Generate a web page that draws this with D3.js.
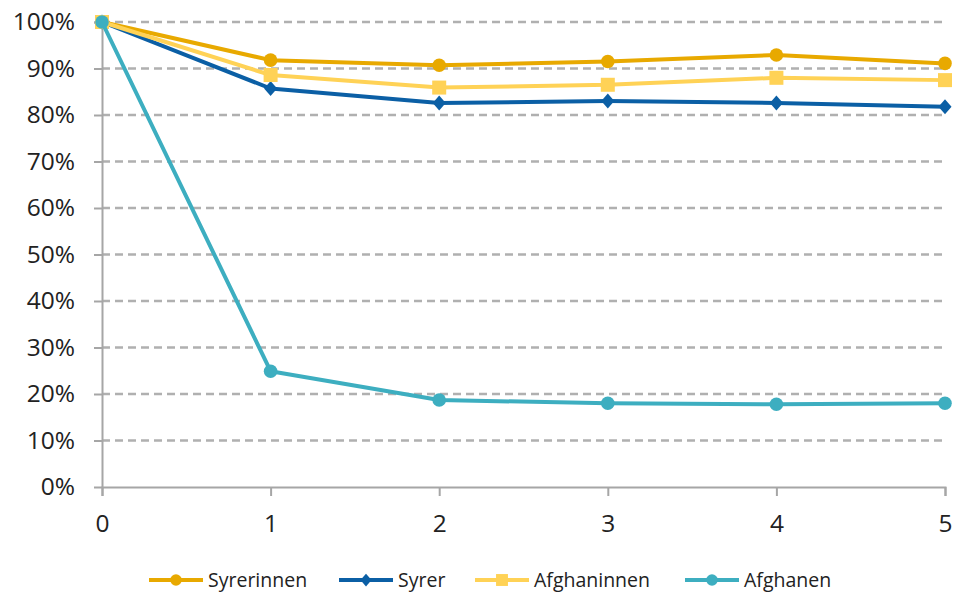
<!DOCTYPE html>
<html><head><meta charset="utf-8">
<script src="https://cdn.jsdelivr.net/npm/d3@7"></script>
<style>body{margin:0;background:#fff}svg{display:block}text{font-family:"Open Sans","Noto Sans",sans-serif;fill:#222}</style>
</head><body><svg id="c" width="960" height="594"></svg>
<script>
const years = [0,1,2,3,4,5];
const yTicks = [0,0.1,0.2,0.3,0.4,0.5,0.6,0.7,0.8,0.9,1.0];
const syrerinnen = [1.00,0.918,0.907,0.915,0.929,0.911];
const syrer = [1.00,0.857,0.826,0.830,0.826,0.818];
const afghaninnen = [1.00,0.886,0.859,0.865,0.880,0.875];
const afghanen = [1.00,0.249,0.187,0.180,0.178,0.180];
const seriesNames = ["Syrerinnen","Syrer","Afghaninnen","Afghanen"];
const seriesValues = [syrerinnen,syrer,afghaninnen,afghanen];
const colors = ["#E8A900","#0B5FA5","#FFD256","#3DAEC0"];
const shapes = ["circle","diamond","square","circle"];

const svg = d3.select("#c");
const x = d3.scaleLinear().domain([0,5]).range([102,945]);
const y = d3.scaleLinear().domain([0,1]).range([487,22]);

// gridlines
svg.append("g").selectAll("line").data(yTicks.filter(d=>d>0)).join("line")
  .attr("x1",x(0)).attr("x2",x(5)).attr("y1",d=>y(d)).attr("y2",d=>y(d))
  .attr("stroke","#B0B0B0").attr("stroke-width",2.6).attr("stroke-dasharray","8,5");

// axes
const yAxis = d3.axisLeft(y).tickValues(yTicks).tickFormat(d=>Math.round(d*100)+"%").tickSize(8).tickPadding(19);
const gy = svg.append("g").attr("transform",`translate(${x(0)},0)`).call(yAxis);
const xAxis = d3.axisBottom(x).tickValues(years).tickFormat(d3.format("d")).tickSize(9).tickPadding(19);
const gx = svg.append("g").attr("transform",`translate(0,${y(0)})`).call(xAxis);
[gy,gx].forEach(g=>{
  g.select(".domain").attr("stroke","#A6A6A6").attr("stroke-width",2);
  g.selectAll(".tick line").attr("stroke","#A6A6A6").attr("stroke-width",2);
  g.selectAll("text").style("font-size","24.5px").attr("fill","#222");
});
gy.selectAll(".tick").filter(d=>d===0).select("line").remove();

function marker(g, shape, color, cx, cy, s){
  if(shape==="circle") g.append("circle").attr("cx",cx).attr("cy",cy).attr("r",6.8*s).attr("fill",color);
  else if(shape==="square") g.append("rect").attr("x",cx-7*s).attr("y",cy-7*s).attr("width",14*s).attr("height",14*s).attr("fill",color);
  else g.append("path").attr("d",`M${cx},${cy-7.5*s}L${cx+6.5*s},${cy}L${cx},${cy+7.5*s}L${cx-6.5*s},${cy}Z`).attr("fill",color);
}

const line = d3.line().x((d,i)=>x(years[i])).y(d=>y(d));
seriesValues.forEach((vals,k)=>{
  const g = svg.append("g");
  g.append("path").datum(vals).attr("d",line).attr("fill","none")
    .attr("stroke",colors[k]).attr("stroke-width",4).attr("stroke-linejoin","round");
  vals.forEach((v,i)=>marker(g,shapes[k],colors[k],x(years[i]),y(v),1));
});

// legend
const legX = [149,339,475,685];
const lg = svg.append("g");
seriesNames.forEach((n,k)=>{
  const lx = legX[k], ly = 580;
  lg.append("line").attr("x1",lx).attr("x2",lx+54).attr("y1",ly).attr("y2",ly)
    .attr("stroke",colors[k]).attr("stroke-width",4);
  marker(lg,shapes[k],colors[k],lx+27,ly,0.85);
  lg.append("text").attr("x",lx+59).attr("y",ly+7).style("font-size","19.5px").text(n);
});
</script></body></html>
